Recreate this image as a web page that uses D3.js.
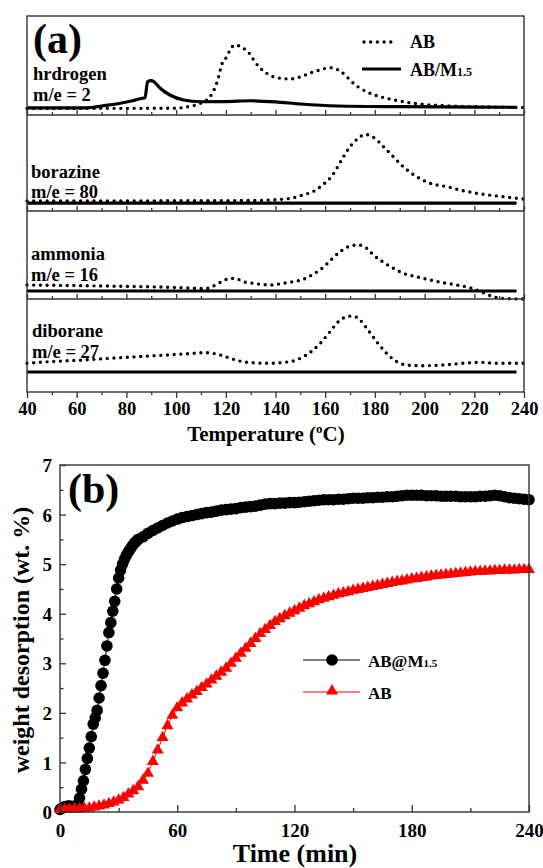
<!DOCTYPE html>
<html><head><meta charset="utf-8">
<script src="https://cdn.jsdelivr.net/npm/d3@7"></script>
<style>
body{margin:0;background:#fff}
svg{display:block}
text{font-family:"Liberation Serif","Times New Roman",serif;font-weight:bold;fill:#000}
</style></head><body>
<svg id="chart" width="543" height="868"></svg>
<script>
// ---------------- DATA: panel (a) ----------------
const tempTicks = [40,60,80,100,120,140,160,180,200,220,240];
const tempMinor = [50,70,90,110,130,150,170,190,210,230];
const gasNames = ["hrdrogen","borazine","ammonia","diborane"];
const massLabels = ["m/e = 2","m/e = 80","m/e = 16","m/e = 27"];
const seriesA = ["AB","AB/M"];
// signal in arbitrary units (0-100 of each sub-panel), [temperature, signal]
const hydrogenAB = [[40,6.6],[70,6.7],[100,6.8],[104,8.1],[108,10.1],[110.5,12.6],[112.3,15.2],[114.9,23.5],[117,37.4],[118.3,50.5],[120.4,58.9],[121.7,65.7],[123.7,70.7],[126.4,68.4],[129.7,61.6],[131.7,53.8],[133.8,47.5],[136.5,42.1],[139,38.7],[142,37.1],[145.8,36.4],[149.9,38.4],[153.9,42.4],[157.9,45.5],[161.9,47.8],[165.2,45.5],[168,40.4],[170.7,33.6],[173.3,28.3],[176.7,23.5],[180.7,19.5],[184.7,16.9],[191.4,13.4],[198,11.1],[211,9.1],[225,8.1],[240,7.6]];
const hydrogenABM = [[40,7.1],[60,7.1],[66,7.6],[70,9.1],[76,11.1],[82,14.1],[86,16.7],[87.5,17.4],[88.5,33.6],[90,34.8],[91,33.8],[93.5,27.3],[97.5,20.2],[103,15.2],[110,13.4],[120,13.6],[130,14.4],[140,13.3],[150,11.1],[165,9.1],[190,8.4],[237,7.8]];
const borazineAB = [[40,10.4],[130,10.9],[138,11.5],[146,13.2],[151,16.7],[155,20.1],[159,27.1],[163,37.5],[166.6,53.1],[170,67],[173.3,75.7],[176,79.7],[180,75.7],[183.4,67],[187.4,56.6],[191.4,46.1],[196.8,35.7],[202.2,28.9],[208.9,25.3],[215.6,21.1],[223.6,17.4],[231.7,14.9],[240,12.3]];
const borazineABM = [[40,8.3],[237,8.3]];
const ammoniaAB = [[40,15.9],[70,14.8],[100,13.1],[112,11.9],[115,14.8],[118,19.3],[120.4,22.4],[123.7,23.5],[127,19.7],[131,17.8],[137.8,15.9],[143,17.8],[147,19.7],[151.2,22.4],[154.6,27.3],[157.9,33],[162.6,45.1],[166,53.8],[169.3,59.4],[173.3,61.4],[176.7,57.6],[179.4,50],[184.1,40.6],[187.4,34.9],[191.4,29.2],[196.8,25.3],[202.2,21.6],[207.5,18.5],[212.9,15.9],[218.3,12.8],[223.6,7.2],[227.6,2.6],[231.7,0.5],[240,0]];
const ammoniaABM = [[40,9.1],[237,9.1]];
const diboraneAB = [[40,30.9],[49,32.6],[63,34.4],[73,36.2],[89.5,38.7],[103,40.9],[112,42.3],[117.7,39.8],[123,35.2],[128.4,31.9],[137,30.9],[145.8,32.6],[151.2,38],[155.2,45.2],[158.6,54.1],[161.9,64.8],[165.3,75.6],[168.6,81],[171,81.7],[174,77.4],[176.7,68.5],[180.7,54.1],[184.7,41.6],[188.8,32.6],[192.8,29],[199.5,28.3],[207.5,29],[215.6,30.9],[222.3,31.9],[229,30.9],[240,30.9]];
const diboraneABM = [[40,21.5],[237,21.5]];

// ---------------- DATA: panel (b) ----------------
const timeTicks = [0,60,120,180,240];
const timeMinor = [30,90,150,210];
const wtTicks = [0,1,2,3,4,5,6,7];
const wtMinor = [0.5,1.5,2.5,3.5,4.5,5.5,6.5];
const seriesB = ["AB@M","AB"];
const timeABM = [0,1,2,3,4,5,6,7,8,9,10,11,12,13,14,15,16,17,18,19,20,21,22,23,24,25,26,27,28,29,30,31,32,33,34,35,36,37,38,39,40,42.5,45,47.5,50,52.5,55,57.5,60,62.5,65,67.5,70,72.5,75,77.5,80,82.5,85,87.5,90,92.5,95,97.5,100,102.5,105,107.5,110,112.5,115,117.5,120,122.5,125,127.5,130,132.5,135,137.5,140,142.5,145,147.5,150,152.5,155,157.5,160,162.5,165,167.5,170,172.5,175,177.5,180,182.5,185,187.5,190,192.5,195,197.5,200,202.5,205,207.5,210,212.5,215,217.5,220,222.5,225,227.5,230,232.5,235,237.5,240];
const wtABM = [0.05,0.08,0.1,0.11,0.12,0.12,0.11,0.11,0.12,0.15,0.28,0.46,0.63,0.86,1.08,1.29,1.52,1.77,1.9,2.05,2.3,2.55,2.8,3.06,3.35,3.62,3.82,4.05,4.25,4.5,4.72,4.88,5.0,5.1,5.18,5.25,5.31,5.37,5.42,5.46,5.5,5.55,5.62,5.68,5.73,5.78,5.83,5.87,5.91,5.94,5.96,5.98,6.0,6.02,6.04,6.05,6.07,6.09,6.1,6.11,6.12,6.14,6.15,6.16,6.17,6.19,6.21,6.22,6.22,6.23,6.23,6.24,6.24,6.25,6.26,6.27,6.28,6.29,6.3,6.3,6.3,6.31,6.31,6.32,6.33,6.33,6.33,6.34,6.34,6.35,6.35,6.36,6.36,6.37,6.38,6.39,6.39,6.39,6.39,6.38,6.38,6.38,6.37,6.37,6.37,6.37,6.36,6.36,6.36,6.36,6.37,6.37,6.38,6.39,6.38,6.36,6.34,6.33,6.32,6.31,6.3];
const timeAB = [0,2.5,5,7.5,10,12.5,15,17.5,20,22.5,25,27.5,30,32.5,35,37.5,40,42.5,45,47.5,50,52.5,55,57.5,60,62.5,65,67.5,70,72.5,75,77.5,80,82.5,85,87.5,90,92.5,95,97.5,100,102.5,105,107.5,110,112.5,115,117.5,120,122.5,125,127.5,130,132.5,135,137.5,140,142.5,145,147.5,150,152.5,155,157.5,160,162.5,165,167.5,170,172.5,175,177.5,180,182.5,185,187.5,190,192.5,195,197.5,200,202.5,205,207.5,210,212.5,215,217.5,220,222.5,225,227.5,230,232.5,235,237.5,240];
const wtAB = [0.05,0.05,0.05,0.06,0.06,0.07,0.08,0.1,0.12,0.14,0.17,0.2,0.24,0.29,0.36,0.43,0.51,0.64,0.78,1.02,1.25,1.5,1.74,1.95,2.1,2.2,2.28,2.36,2.43,2.51,2.58,2.66,2.74,2.82,2.9,3.0,3.1,3.2,3.3,3.4,3.5,3.6,3.68,3.76,3.84,3.9,3.96,4.01,4.06,4.11,4.16,4.2,4.24,4.28,4.31,4.34,4.37,4.4,4.42,4.44,4.47,4.49,4.51,4.53,4.55,4.57,4.59,4.61,4.63,4.65,4.66,4.68,4.7,4.71,4.73,4.74,4.76,4.77,4.78,4.79,4.8,4.81,4.82,4.83,4.84,4.85,4.85,4.86,4.86,4.87,4.87,4.88,4.88,4.88,4.89,4.89,4.89];

// ---------------- LAYOUT ----------------
const svg = d3.select("#chart");
const FRAME = "#333";
const FONT = "Liberation Serif, Times New Roman, serif";
const aL = 27, aR = 524;
const sepY = [16, 115, 211, 299, 392];
const labelLayout = [[33, 80, 101],[31, 178, 198],[31, 260, 281],[32, 337, 358]];
const panelsA = [
  {dot: hydrogenAB, solid: hydrogenABM},
  {dot: borazineAB, solid: borazineABM},
  {dot: ammoniaAB, solid: ammoniaABM},
  {dot: diboraneAB, solid: diboraneABM}
];

const xA = d3.scaleLinear().domain([40,240]).range([aL, aR]);
const gA = svg.append("g");

panelsA.forEach((p, i) => {
  const y = d3.scaleLinear().domain([0,100]).range([sepY[i+1], sepY[i]]);
  const line = d3.line().x(d => xA(d[0])).y(d => y(d[1])).curve(d3.curveMonotoneX);
  gA.append("path").attr("d", line(p.solid)).attr("fill","none")
    .attr("stroke","#000").attr("stroke-width",3.2);
  gA.append("path").attr("d", line(p.dot)).attr("fill","none")
    .attr("stroke","#000").attr("stroke-width",3.4)
    .attr("stroke-linecap","round").attr("stroke-dasharray","0 6.7");
  const [lx, ly1, ly2] = labelLayout[i];
  gA.append("text").attr("x", lx).attr("y", ly1).attr("font-size", 18.5).text(gasNames[i]);
  gA.append("text").attr("x", lx).attr("y", ly2).attr("font-size", 18.5).text(massLabels[i]);
});

// frame & separators
gA.append("rect").attr("x", aL).attr("y", sepY[0]).attr("width", aR-aL).attr("height", sepY[4]-sepY[0])
  .attr("fill","none").attr("stroke",FRAME).attr("stroke-width",1.4);
[1,2,3].forEach(i => {
  gA.append("line").attr("x1", aL).attr("x2", aR).attr("y1", sepY[i]).attr("y2", sepY[i])
    .attr("stroke",FRAME).attr("stroke-width",1.4);
  const major = d3.axisBottom(xA).tickValues(tempTicks).tickSize(-5).tickFormat("");
  const minor = d3.axisBottom(xA).tickValues(tempMinor).tickSize(-3).tickFormat("");
  gA.append("g").attr("transform",`translate(0,${sepY[i]})`).call(major)
    .call(g => g.select(".domain").remove()).call(g => g.selectAll("line").attr("stroke",FRAME).attr("stroke-width",1.3));
  gA.append("g").attr("transform",`translate(0,${sepY[i]})`).call(minor)
    .call(g => g.select(".domain").remove()).call(g => g.selectAll("line").attr("stroke",FRAME).attr("stroke-width",1.3));
});
// bottom axis
gA.append("g").attr("transform",`translate(0,${sepY[4]})`)
  .call(d3.axisBottom(xA).tickValues(tempTicks).tickSize(6).tickFormat(d3.format("d")))
  .call(g => g.select(".domain").remove())
  .call(g => g.selectAll("line").attr("stroke",FRAME).attr("stroke-width",1.3))
  .call(g => g.selectAll("text").attr("dy",null).attr("y",23).attr("font-size",18.5)
    .attr("font-family",FONT).attr("font-weight","bold").attr("fill","#000"));
gA.append("g").attr("transform",`translate(0,${sepY[4]})`)
  .call(d3.axisBottom(xA).tickValues(tempMinor).tickSize(3).tickFormat(""))
  .call(g => g.select(".domain").remove())
  .call(g => g.selectAll("line").attr("stroke",FRAME).attr("stroke-width",1.3));

const tT = gA.append("text").attr("x", 266).attr("y", 441).attr("text-anchor","middle").attr("font-size",21);
tT.append("tspan").text("Temperature (");
tT.append("tspan").attr("font-size",13).attr("dy",-8).text("o");
tT.append("tspan").attr("dy",8).text("C)");

gA.append("text").attr("x",33).attr("y",53).attr("font-size",42).text("(a)");

// legend (a)
gA.append("line").attr("x1",364).attr("x2",397).attr("y1",42).attr("y2",42)
  .attr("stroke","#000").attr("stroke-width",3.4).attr("stroke-linecap","round").attr("stroke-dasharray","0 6.7");
gA.append("line").attr("x1",362).attr("x2",401).attr("y1",69).attr("y2",69)
  .attr("stroke","#000").attr("stroke-width",3.2);
gA.append("text").attr("x",410).attr("y",48).attr("font-size",18).text(seriesA[0]);
const lA2 = gA.append("text").attr("x",410).attr("y",76).attr("font-size",18);
lA2.append("tspan").text(seriesA[1]);
lA2.append("tspan").attr("font-size",12).text("1.5");

// ---------------- PANEL (b) ----------------
const bL = 60, bR = 529, bT = 465, bB = 812;
const xB = d3.scaleLinear().domain([0,240]).range([bL,bR]);
const yB = d3.scaleLinear().domain([0,7]).range([bB,bT]);
const gB = svg.append("g");

const dataABM = timeABM.map((t,i) => [t, wtABM[i]]);
const dataAB = timeAB.map((t,i) => [t, wtAB[i]]);
const lineB = d3.line().x(d => xB(d[0])).y(d => yB(d[1]));

gB.append("path").attr("d", lineB(dataABM)).attr("fill","none").attr("stroke","#000").attr("stroke-width",1);
gB.selectAll("circle.abm").data(dataABM).join("circle").attr("class","abm")
  .attr("cx", d => xB(d[0])).attr("cy", d => yB(d[1])).attr("r",5.8).attr("fill","#000");
gB.append("path").attr("d", lineB(dataAB)).attr("fill","none").attr("stroke","#f00").attr("stroke-width",1);
const tri = d3.symbol().type(d3.symbolTriangle).size(62);
gB.selectAll("path.ab").data(dataAB).join("path").attr("class","ab")
  .attr("d", tri).attr("transform", d => `translate(${xB(d[0])},${yB(d[1])})`).attr("fill","#f00");

gB.append("rect").attr("x",bL).attr("y",bT).attr("width",bR-bL).attr("height",bB-bT)
  .attr("fill","none").attr("stroke",FRAME).attr("stroke-width",1.4);

const styleTicks = g => { g.select(".domain").remove(); g.selectAll("line").attr("stroke",FRAME).attr("stroke-width",1.3); };
gB.append("g").attr("transform",`translate(0,${bB})`)
  .call(d3.axisBottom(xB).tickValues(timeTicks).tickSize(-7).tickFormat(d3.format("d")))
  .call(styleTicks)
  .call(g => g.selectAll("text").attr("dy",null).attr("y",25).attr("font-size",19)
    .attr("font-family",FONT).attr("font-weight","bold").attr("fill","#000"));
gB.append("g").attr("transform",`translate(0,${bB})`)
  .call(d3.axisBottom(xB).tickValues(timeMinor).tickSize(-4).tickFormat("")).call(styleTicks);
gB.append("g").attr("transform",`translate(${bL},0)`)
  .call(d3.axisLeft(yB).tickValues(wtTicks).tickSize(-6).tickFormat(d3.format("d")))
  .call(styleTicks)
  .call(g => g.selectAll("text").attr("dy","0.35em").attr("x",-8).attr("font-size",19)
    .attr("font-family",FONT).attr("font-weight","bold").attr("fill","#000"));
gB.append("g").attr("transform",`translate(${bL},0)`)
  .call(d3.axisLeft(yB).tickValues(wtMinor).tickSize(-3.5).tickFormat("")).call(styleTicks);

gB.append("text").attr("x",295).attr("y",862).attr("text-anchor","middle").attr("font-size",26).text("Time (min)");
gB.append("text").attr("transform","translate(29,640) rotate(-90)").attr("text-anchor","middle")
  .attr("font-size",24).text("weight desorption (wt. %)");
gB.append("text").attr("x",68).attr("y",503).attr("font-size",42).text("(b)");

// legend (b)
gB.append("line").attr("x1",303).attr("x2",360).attr("y1",660).attr("y2",660).attr("stroke","#000").attr("stroke-width",1);
gB.append("circle").attr("cx",332).attr("cy",660).attr("r",5.8).attr("fill","#000");
const lB1 = gB.append("text").attr("x",368).attr("y",667).attr("font-size",17);
lB1.append("tspan").text(seriesB[0]);
lB1.append("tspan").attr("font-size",11).text("1.5");
gB.append("line").attr("x1",303).attr("x2",360).attr("y1",692).attr("y2",692).attr("stroke","#f00").attr("stroke-width",1);
gB.append("path").attr("d",tri).attr("transform","translate(332,691)").attr("fill","#f00");
gB.append("text").attr("x",368).attr("y",699).attr("font-size",17).text(seriesB[1]);
</script>
</body></html>
